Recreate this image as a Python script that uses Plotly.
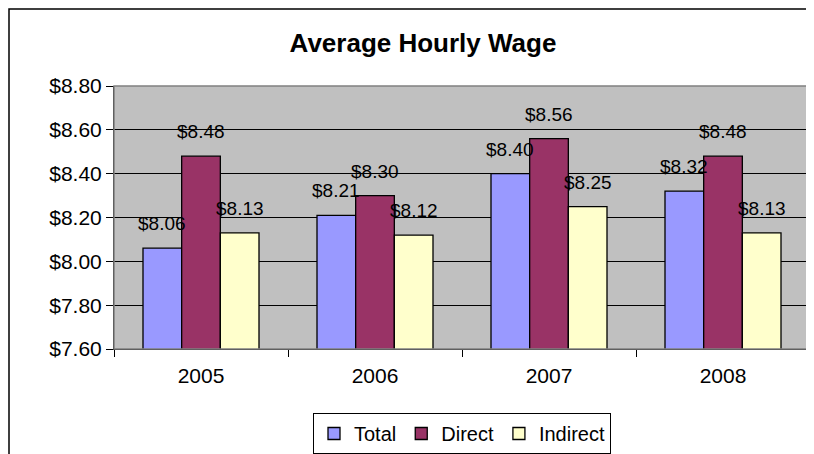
import plotly.graph_objects as go

years = ["2005", "2006", "2007", "2008"]
total = [8.06, 8.21, 8.40, 8.32]
direct = [8.48, 8.30, 8.56, 8.48]
indirect = [8.13, 8.12, 8.25, 8.13]

series = [("Total", total, "#9999FF"), ("Direct", direct, "#993366"), ("Indirect", indirect, "#FFFFCC")]

FONT = "Liberation Sans, Arial, sans-serif"

fig = go.Figure()
for name, vals, col in series:
    fig.add_trace(go.Bar(
        x=years, y=vals, name=name,
        marker=dict(color=col, line=dict(color="#000000", width=1.3)),
    ))

# data labels as annotations centred over each bar (category-index coordinates)
bargap = 1.5 / 4.5
bar_w = (1 - bargap) / 3
for j, (name, vals, col) in enumerate(series):
    for i, v in enumerate(vals):
        fig.add_annotation(
            x=i + (j - 1) * bar_w, y=v, xref="x", yref="y",
            text=f"${v:.2f}", showarrow=False,
            yanchor="bottom", yshift=12,
            font=dict(family=FONT, size=19, color="#000000"),
        )

# the page places the figure 8px from the window's top-left corner
OFF = 8
W, H = 814 - OFF, 454 - OFF
PL, PR, PT, PB = 114 - OFF, 810 - OFF, 86 - OFF, 349 - OFF
PW, PH = PR - PL, PB - PT

fig.update_layout(
    width=W, height=H,
    margin=dict(l=PL, r=W - PR, t=PT, b=H - PB, autoexpand=False),
    paper_bgcolor="#FFFFFF",
    plot_bgcolor="#C0C0C0",
    barmode="group",
    bargap=bargap,
    bargroupgap=0,
    font=dict(family=FONT, size=20, color="#000000"),
    title=dict(text="<b>Average Hourly Wage</b>", x=(423 - OFF) / W, xanchor="center",
               y=1 - (43 - OFF) / H, yanchor="middle", automargin=False,
               font=dict(family=FONT, size=26, color="#000000")),
    showlegend=True,
    legend=dict(orientation="h", x=0.5, xanchor="center",
                y=(PB - (413 - OFF)) / PH, yanchor="top",
                bordercolor="#000000", borderwidth=1, bgcolor="#FFFFFF",
                font=dict(family=FONT, size=20), itemwidth=30,
                traceorder="normal"),
    xaxis=dict(type="category", categoryorder="array", categoryarray=years,
               range=[-0.5, len(years) - 0.5], automargin=False,
               showgrid=False, showline=True, linecolor="#000000", linewidth=1,
               ticks="outside", tickson="boundaries", ticklen=7, tickcolor="#000000",
               ticklabelstandoff=8,
               tickfont=dict(family=FONT, size=21), tickangle=0),
    yaxis=dict(range=[7.6, 8.8], dtick=0.2, tick0=7.6, tickformat="$.2f",
               automargin=False,
               showgrid=True, gridcolor="#000000", gridwidth=1,
               showline=True, linecolor="#000000", linewidth=1,
               ticks="outside", ticklen=7, tickcolor="#000000",
               tickfont=dict(family=FONT, size=21), zeroline=False),
    shapes=[
        dict(type="rect", xref="paper", yref="paper", x0=0, x1=1, y0=0, y1=1,
             line=dict(color="#808080", width=1.5), layer="above"),
        dict(type="rect", xref="paper", yref="paper",
             x0=(1 - PL) / PW, x1=(W + 20 - PL) / PW,
             y0=(PB - (H + 20)) / PH, y1=1 + (PT - 1) / PH,
             line=dict(color="#000000", width=1.5), layer="below"),
    ],
)

fig.write_html("out.html", config={"displayModeBar": False})
